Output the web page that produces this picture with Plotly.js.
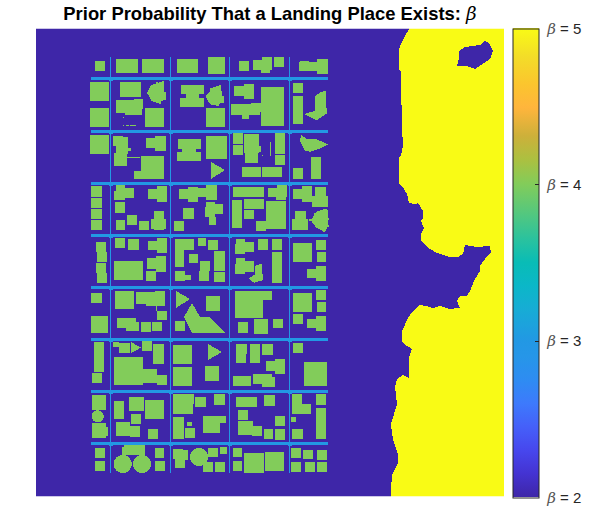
<!DOCTYPE html>
<html>
<head>
<meta charset="utf-8">
<script src="https://cdn.plot.ly/plotly-3.0.1.min.js"></script>
<style>html,body{margin:0;padding:0;background:#fff}</style>
</head>
<body>
<div id="map"></div>
<script>
// prior value of each land class
var waterValue = 2, roadValue = 3, buildingValue = 4, shoreValue = 5;
var tickValues = [2, 3, 4, 5];
var gridSize = 468;

// map position of the survey sheets (footprints below are in 1/3 cells from these corners)
var sheetNW = [49, 22], sheetNE = [174, 22];
var sheetMW = [49, 152], sheetME = [174, 152];
var sheetSW = [49, 282], sheetSE = [174, 282];

// building footprints [x0, y0, x1, y1]
var buildingsNW = [[30,30,60,60],[93,24,159,66],[171,24,237,66],[276,24,339,66],[369,18,390,69],
  [15,93,72,150],[105,93,168,138],
  [93,147,147,186],[120,150,171,192],[147,144,174,174],[114,198,117,201],[114,222,117,225],[123,222,132,225],[135,222,153,225],
  [15,171,72,228],[180,171,237,228],[288,102,357,129],[285,141,357,168],[303,105,342,168],
  [363,171,390,228],
  [15,252,72,309],[84,255,114,285],[93,258,129,310],[87,306,126,345],[120,291,138,300],[126,318,165,321],
  [183,261,243,291],[210,255,243,300],[279,264,348,294],[276,303,348,330],[291,267,333,327],
  [363,255,390,324],[168,315,237,384],[147,360,237,384],
  [192,117,198,123],[213,93,219,102],[228,93,234,90],[222,150,228,159]];
var buildingsNE = [[0,18,45,69],[87,30,117,60],[129,27,186,57],[156,18,186,48],[153,48,180,66],[192,18,222,48],
  [267,33,354,60],[270,30,297,60],[321,24,354,69],
  [0,171,45,228],[72,105,132,135],[102,99,132,144],
  [63,159,150,192],[123,156,153,183],[96,159,117,204],[153,108,222,225],[249,96,279,126],[249,135,279,219],
  [0,255,51,324],[69,246,99,279],[69,282,99,312],[102,249,147,306],[105,300,144,336],[147,285,153,304],[156,312,159,315],
  [180,273,183,315],[195,246,225,309],[195,312,225,342],[96,348,153,378],[156,348,216,378],[249,351,279,384],[303,318,333,384]];
var buildingsMW = [[18,15,51,48],[18,51,51,81],[18,84,51,114],[18,117,51,147],
  [93,12,120,30],[87,30,120,57],[120,21,147,51],[90,63,120,96],[93,117,120,147],[126,102,156,132],[162,120,192,147],
  [189,24,246,54],[216,15,246,63],[207,90,237,147],[198,114,243,144],
  [282,24,336,54],[309,18,339,63],[336,21,390,48],[363,12,390,57],[294,81,327,114],[267,120,297,150],
  [360,78,390,108],[363,63,390,105],[372,105,390,132],
  [33,183,63,213],[36,213,66,243],[33,246,63,276],[36,276,66,306],
  [90,171,120,201],[129,174,162,207],[189,180,246,207],[216,171,246,216],[87,240,174,297],
  [186,231,243,264],[213,225,243,273],[183,270,213,300],[270,174,327,207],[270,207,297,258],
  [312,219,339,246],[339,171,363,195],[369,177,390,207],[345,240,375,270],[342,270,372,300],[270,270,300,300],[300,282,318,297],
  [18,336,51,366],[90,330,147,384],[153,333,216,369],[183,336,240,375],[210,330,240,357],[213,375,216,390],[216,390,246,417],
  [363,345,390,390],[18,405,69,420]];
var buildingsME = [[0,12,21,57],[0,63,15,108],[0,69,39,99],[0,108,18,132],
  [69,18,162,48],[174,21,231,48],[201,12,231,42],[198,42,228,57],
  [66,57,96,141],[102,54,162,84],[102,87,132,114],[168,60,228,144],[138,120,168,150],
  [249,24,306,54],[276,15,306,63],[315,18,348,72],[306,45,354,78],[255,90,288,147],[246,114,294,147],
  [0,177,24,207],[12,210,45,270],[12,273,45,303],
  [78,174,105,219],[75,189,105,219],[105,183,132,213],[144,174,174,207],[186,174,216,207],
  [78,231,105,279],[75,249,105,279],[105,240,132,273],[186,213,216,306],
  [249,186,306,243],[318,177,348,207],[321,213,348,243],[291,264,345,291],[318,255,348,300],
  [0,345,30,390],[75,330,186,357],[75,357,159,411],[249,336,306,393],[318,327,348,357],[321,363,348,393],
  [297,114,306,120],[312,96,321,108],[348,132,357,138],[339,144,345,153]];
var buildingsSW = [[18,15,69,66],[96,21,153,51],[123,33,162,60],[168,33,198,63],[201,33,231,60],[270,30,300,60],
  [27,93,57,183],[21,186,51,216],[84,93,102,108],[102,96,135,126],[171,90,201,120],[204,99,237,159],
  [87,138,174,222],[174,174,216,216],[216,192,246,222],[264,102,321,159],[264,168,321,225],[360,165,390,210],
  [21,252,63,297],[21,336,63,381],[63,348,69,375],[87,270,117,324],[132,258,177,300],[180,267,237,324],
  [138,309,168,339],[93,333,135,375],[135,345,165,378],[189,354,219,384],
  [264,249,327,279],[264,279,324,309],[330,258,363,288],[264,318,297,384],[306,333,321,345],[300,351,330,381],[354,315,390,366],
  [30,411,60,441],[30,450,60,480],[111,408,180,432],[117,402,150,432],[150,402,180,432],[210,411,237,441],[210,450,240,480],
  [264,414,294,444],[270,417,309,447],[270,444,300,471],[354,453,384,483],[369,411,390,438]];
var buildingsSE = [[75,0,159,21],[84,33,114,66],[132,24,174,69],[189,24,219,51],[249,9,279,39],[291,24,345,51],[318,15,348,60],
  [78,99,111,129],[78,129,108,156],[120,99,150,156],[156,99,189,132],[168,150,225,180],[195,144,225,189],
  [0,165,27,210],[69,195,123,225],[129,189,186,219],[156,198,195,228],[249,96,279,126],[282,153,351,225],
  [12,249,45,282],[78,258,141,288],[162,252,195,285],[84,297,114,327],[84,330,129,372],[126,345,156,375],[162,354,189,384],
  [195,315,225,345],[195,354,225,387],[246,249,276,279],[246,279,303,309],[318,249,348,282],[243,318,258,333],[246,354,279,384],[318,291,348,384],
  [0,315,48,336],[0,336,30,366],[0,411,24,438],[30,408,51,429],[69,411,96,438],[69,450,96,480],[102,426,162,486],[165,423,222,480],
  [243,411,273,441],[243,453,273,483],[279,417,309,444],[285,453,315,483],[321,417,351,447],[321,453,351,483],[0,453,9,483],[15,453,45,483]];

// round buildings [cx, cy, r] on the SW sheet
var circlesSW = [[38,316,18],[113,459,27],[171,459,27],[342,438,27]];

// odd shaped buildings
var polysNW = [[[378,333],[378,384],[420,357]],
  [[186,125],[198,102],[237,90],[237,122],[243,124],[243,147],[228,150],[222,158],[200,150]],
  [[361,135],[375,120],[390,115],[390,160],[375,160]]];
var polysNE = [[[282,189],[315,180],[315,135],[330,125],[348,118],[350,188],[320,208],[300,198]],
  [[270,270],[273,250],[290,265],[320,265],[354,280],[330,293],[300,302],[285,300]],
  [[0,112],[33,102],[36,135],[42,135],[42,155],[30,156],[27,165],[0,160]]];
var polysMW = [[[273,330],[273,381],[315,354]],
  [[321,366],[345,408],[375,408],[423,456],[321,456],[297,408]]];
var polysME = [[[135,255],[155,248],[159,298],[132,305],[115,293],[135,280]],
  [[303,118],[318,92],[352,82],[356,115],[352,140],[345,153],[318,140]]];
var polysSW = [[[138,93],[138,126],[168,110]],[[369,99],[369,147],[411,123]]];

// roads, in map cells
var roadRows = [48, 101, 153, 205, 257, 309, 361, 413];
var roadCols = [74, 134, 193, 253];
var roadX = [55, 292], roadY = [28, 444];

// shoreline and lake outline, in map cells
var shoreX = [468,373,369,365,363,363,365,365,366,366,367,367,365,363,363,368,371,373,380,382,387,387,385,388,385,385,391,401,414,422,427,429,441,454,455,451,444,444,438,434,431,424,421,424,423,414,404,397,391,384,377,372,366,366,368,376,373,373,367,361,359,361,358,355,356,358,362,362,356,355,355,468];
var shoreY = [0,0,7,15,21,41,42,75,76,107,109,117,127,129,154,160,165,174,175,174,182,189,192,199,205,211,218,224,228,228,225,216,218,217,224,227,237,242,252,262,267,267,272,279,279,280,277,279,277,276,282,289,302,312,315,320,329,349,346,350,358,375,385,395,404,414,425,434,446,460,468,468];
var lakeX = [423,429,444,449,453,457,454,439,431,421,423];
var lakeY = [22,18,16,12,14,22,30,40,37,37,29];

var colorStops = [
  [0, '#3E26A8'], [0.05, '#4433D2'], [0.1, '#4747EE'], [0.15, '#4560F9'], [0.2, '#3D7AFC'],
  [0.25, '#2E8CF2'], [0.3, '#2696E8'], [0.333, '#2298E4'], [0.4, '#17ACD5'], [0.45, '#0BB7C8'],
  [0.5, '#09BCB6'], [0.55, '#2AC29E'], [0.6, '#50C781'], [0.667, '#82CC5A'], [0.72, '#ACC040'],
  [0.77, '#CDB03A'], [0.83, '#FFB53C'], [0.88, '#FBC52E'], [0.94, '#F3DD28'], [1, '#F9FB15']
];

function insidePoly(px, py, xs, ys) {
  var inside = false;
  for (var i = 0, j = xs.length - 1; i < xs.length; j = i++) {
    if ((ys[i] > py) !== (ys[j] > py) && px < (xs[j] - xs[i]) * (py - ys[i]) / (ys[j] - ys[i]) + xs[i]) inside = !inside;
  }
  return inside;
}

var z = [];
for (var r = 0; r < gridSize; r++) {
  var row = [];
  for (var c = 0; c < gridSize; c++) {
    var onShore = insidePoly(c + 0.5, r + 0.5, shoreX, shoreY) && !insidePoly(c + 0.5, r + 0.5, lakeX, lakeY);
    row.push(onShore ? shoreValue : waterValue);
  }
  z.push(row);
}

function paint(x0, y0, x1, y1, v) {
  for (var r = Math.round(y0); r < Math.round(y1); r++) {
    for (var c = Math.round(x0); c < Math.round(x1); c++) {
      if (r >= 0 && r < gridSize && c >= 0 && c < gridSize) z[r][c] = v;
    }
  }
}

roadRows.forEach(function (ry) {
  paint(roadX[0], ry, roadX[1], ry + 3, roadValue);
  roadCols.forEach(function (cx) { paint(cx - 1, ry - 0.5, cx + 3, ry + 3.5, roadValue); });
});
roadCols.forEach(function (cx) { paint(cx, roadY[0], cx + 1, roadY[1], roadValue); });

function paintRects(list, o) {
  list.forEach(function (b) {
    paint(o[0] + b[0] / 3, o[1] + b[1] / 3, o[0] + b[2] / 3, o[1] + b[3] / 3, buildingValue);
  });
}
function paintPolys(list, o) {
  list.forEach(function (p) {
    var xs = p.map(function (q) { return o[0] + q[0] / 3; });
    var ys = p.map(function (q) { return o[1] + q[1] / 3; });
    for (var r = 0; r < gridSize; r++) {
      for (var c = 0; c < gridSize; c++) {
        if (insidePoly(c + 0.5, r + 0.5, xs, ys)) z[r][c] = buildingValue;
      }
    }
  });
}
paintRects(buildingsNW, sheetNW); paintRects(buildingsNE, sheetNE);
paintRects(buildingsMW, sheetMW); paintRects(buildingsME, sheetME);
paintRects(buildingsSW, sheetSW); paintRects(buildingsSE, sheetSE);
paintPolys(polysNW, sheetNW); paintPolys(polysNE, sheetNE);
paintPolys(polysMW, sheetMW); paintPolys(polysME, sheetME);
paintPolys(polysSW, sheetSW);
circlesSW.forEach(function (k) {
  var cx = sheetSW[0] + k[0] / 3, cy = sheetSW[1] + k[1] / 3, rad = k[2] / 3;
  for (var r = 0; r < gridSize; r++) {
    for (var c = 0; c < gridSize; c++) {
      if (Math.pow(c + 0.5 - cx, 2) + Math.pow(r + 0.5 - cy, 2) <= rad * rad) z[r][c] = buildingValue;
    }
  }
});

var betaMark = '<i><span style="font-family:\'DejaVu Serif\',serif;font-weight:normal;color:#555">β</span></i>';
var tickText = tickValues.map(function (v) { return '\u00a0' + betaMark + ' = ' + v; });

var data = [{
  type: 'heatmap',
  z: z,
  x0: 0.5, dx: 1,
  y0: 0.5, dy: 1,
  zmin: 2, zmax: 5,
  zsmooth: false,
  hoverinfo: 'skip',
  colorscale: colorStops,
  colorbar: {
    x: 512.5 / 593, xanchor: 'left', xpad: 0,
    y: 1 - 28.5 / 525, yanchor: 'top', ypad: 0,
    thickness: 26, thicknessmode: 'pixels',
    len: 468.5, lenmode: 'pixels',
    outlinewidth: 1, outlinecolor: '#262626',
    tickmode: 'array', tickvals: tickValues, ticktext: tickText,
    ticks: 'inside', ticklen: 4, tickwidth: 1, tickcolor: '#262626',
    tickfont: {family: '"Liberation Sans", Arial, sans-serif', size: 15, color: '#262626'}
  }
}];

var layout = {
  width: 593, height: 525,
  margin: {l: 0, r: 0, t: 0, b: 0},
  paper_bgcolor: '#fff', plot_bgcolor: '#fff',
  showlegend: false,
  title: {
    text: 'Prior Probability That a Landing Place Exists: <span style="font-family:\'DejaVu Serif\',serif;font-weight:normal"><i>β</i></span>',
    x: 270 / 593, xanchor: 'center', y: 1 - 14 / 525, yanchor: 'middle',
    font: {family: '"Liberation Sans", Arial, sans-serif', size: 18.4, color: '#000', weight: 'bold'}
  },
  xaxis: {domain: [36 / 593, 504 / 593], range: [0, gridSize], visible: false, fixedrange: true},
  yaxis: {domain: [1 - 496.5 / 525, 1 - 28.5 / 525], range: [gridSize, 0], visible: false, fixedrange: true}
};

Plotly.newPlot('map', data, layout, {displayModeBar: false, staticPlot: true});
</script>
</body>
</html>
